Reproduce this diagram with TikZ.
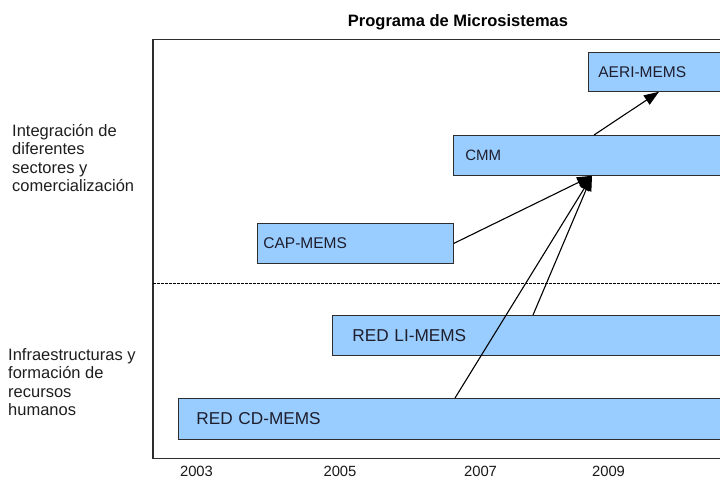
\documentclass[tikz,border=0pt]{standalone}
\usepackage{fontspec}
\setmainfont{Liberation Sans}
\usetikzlibrary{arrows.meta}
\definecolor{barfill}{RGB}{153,204,255}
\definecolor{bartext}{RGB}{30,30,45}
\definecolor{edgegray}{RGB}{45,45,45}
\begin{document}
\begin{tikzpicture}[x=1pt,y=-1pt,
  bar/.style={draw=edgegray, line width=0.8pt, fill=barfill, anchor=north west,
    inner ysep=0pt, align=left, text=bartext},
  link/.style={line width=1.1pt, -{Triangle[length=15pt,width=11pt]}},
  sidelabel/.style={anchor=base west, align=left, inner sep=0pt, text=black!88,
    font=\fontsize{16.5pt}{18.4pt}\selectfont},
  yearlabel/.style={anchor=base, inner sep=0pt, text=black!90,
    font=\fontsize{14.8pt}{16pt}\selectfont}]
\useasboundingbox (0,0) rectangle (720,480);
\fill[white] (0,0) rectangle (720,480);
\clip (0,0) rectangle (720,480);

% frame and separator
\draw[edgegray, line width=1.2pt] (153,39.5) rectangle (760,458.5);
\draw[black, line width=0.7pt, dash pattern=on 2.5pt off 1.5pt] (153,283) -- (760,283);

% bars
\node[bar, minimum height=39pt, text width=132pt, inner xsep=10pt,
  font=\fontsize{15.5pt}{18pt}\selectfont] (aeri) at (588,52) {AERI-MEMS};
\node[bar, minimum height=40pt, text width=283pt, inner xsep=12pt,
  font=\fontsize{15pt}{18pt}\selectfont] (cmm) at (453,135) {CMM};
\node[bar, minimum height=40pt, text width=184pt, inner xsep=6pt,
  font=\fontsize{15.5pt}{18pt}\selectfont] (cap) at (257,223) {CAP-MEMS};
\node[bar, minimum height=40pt, text width=388pt, inner xsep=20pt,
  font=\fontsize{17.2pt}{20pt}\selectfont] (li) at (332,315) {RED LI-MEMS};
\node[bar, minimum height=41pt, text width=546pt, inner xsep=18pt,
  font=\fontsize{17.2pt}{20pt}\selectfont] (cd) at (178,398) {RED CD-MEMS};

% connectors
\coordinate (hub) at ([xshift=139pt]cmm.south west);
\draw[link] (cap.east) -- (hub);
\draw[link] ([xshift=201pt]li.north west) -- (hub);
\draw[link] ([xshift=277pt]cd.north west) -- (hub);
\draw[link] ([xshift=141pt]cmm.north west) -- ([xshift=71pt]aeri.south west);

% texts
\node[anchor=base, inner sep=0pt, font=\bfseries\fontsize{16.5pt}{18pt}\selectfont]
  (title) at (458,26.8) {Programa de Microsistemas};
\node[sidelabel] (upper) at (12,191.7)
  {Integración de\\diferentes\\sectores y\\comercialización};
\node[sidelabel] (lower) at (8,415.7)
  {Infraestructuras y\\formación de\\recursos\\humanos};
\node[yearlabel] (y2003) at (196.5,476.5) {2003};
\node[yearlabel] (y2005) at (340,476.5) {2005};
\node[yearlabel] (y2007) at (480.5,476.5) {2007};
\node[yearlabel] (y2009) at (608.5,476.5) {2009};
\end{tikzpicture}
\end{document}
